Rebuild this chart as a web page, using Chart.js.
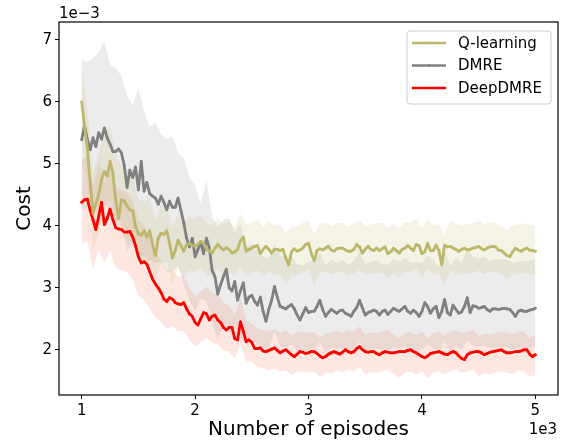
<!DOCTYPE html>
<html>
<head>
<meta charset="utf-8">
<script src="https://cdn.jsdelivr.net/npm/chart.js@4.4.1/dist/chart.umd.min.js"></script>
<style>
  html, body { margin: 0; padding: 0; background: #fff; }
  #wrap { width: 562px; height: 442px; }
</style>
</head>
<body>
<div id="wrap"><canvas id="canvas" width="562" height="442"></canvas></div>
<script>
// cost values are in units of 1e-3, episodes are raw counts
var xTicks = [1000, 2000, 3000, 4000, 5000];
var yTicks = [2, 3, 4, 5, 6, 7];
var seriesNames = ["Q-learning", "DMRE", "DeepDMRE"];

// mean curves, every 25 episodes
var lineEpisodes = [1000,1025,1050,1075,1100,1125,1150,1175,1200,1225,1250,1275,1300,1325,1350,1375,1400,1425,1450,1475,
  1500,1525,1550,1575,1600,1625,1650,1675,1700,1725,1750,1775,1800,1825,1850,1875,1900,1925,1950,1975,
  2000,2025,2050,2075,2100,2125,2150,2175,2200,2225,2250,2275,2300,2325,2350,2375,2400,2425,2450,2475,
  2500,2525,2550,2575,2600,2625,2650,2675,2700,2725,2750,2775,2800,2825,2850,2875,2900,2925,2950,2975,
  3000,3025,3050,3075,3100,3125,3150,3175,3200,3225,3250,3275,3300,3325,3350,3375,3400,3425,3450,3475,
  3500,3525,3550,3575,3600,3625,3650,3675,3700,3725,3750,3775,3800,3825,3850,3875,3900,3925,3950,3975,
  4000,4025,4050,4075,4100,4125,4150,4175,4200,4225,4250,4275,4300,4325,4350,4375,4400,4425,4450,4475,
  4500,4525,4550,4575,4600,4625,4650,4675,4700,4725,4750,4775,4800,4825,4850,4875,4900,4925,4950,4975,5000];

var qlearning = [6.00,5.62,5.25,4.70,4.20,4.35,4.50,4.75,4.88,4.80,5.04,4.86,4.42,4.12,4.42,4.40,4.32,4.26,4.24,3.99,
  3.87,3.85,3.92,3.82,3.92,3.70,3.52,3.80,3.88,3.86,3.92,3.72,3.48,3.60,3.77,3.68,3.59,3.70,3.72,3.68,
  3.68,3.70,3.75,3.72,3.62,3.60,3.56,3.64,3.70,3.65,3.61,3.65,3.62,3.56,3.58,3.62,3.76,3.82,3.59,3.62,
  3.64,3.67,3.68,3.55,3.62,3.67,3.62,3.56,3.62,3.62,3.60,3.62,3.48,3.37,3.58,3.63,3.59,3.61,3.64,3.70,
  3.72,3.55,3.44,3.60,3.63,3.61,3.64,3.67,3.61,3.59,3.63,3.64,3.64,3.61,3.59,3.59,3.62,3.70,3.66,3.56,
  3.62,3.67,3.62,3.60,3.64,3.60,3.63,3.66,3.55,3.58,3.64,3.60,3.56,3.62,3.64,3.68,3.64,3.60,3.70,3.68,
  3.55,3.58,3.72,3.60,3.60,3.69,3.60,3.37,3.69,3.66,3.67,3.64,3.62,3.59,3.62,3.64,3.61,3.62,3.64,3.65,
  3.67,3.63,3.61,3.64,3.66,3.67,3.66,3.61,3.60,3.56,3.52,3.50,3.58,3.64,3.61,3.59,3.62,3.64,3.61,3.60,3.59];

var dmre = [5.39,5.62,5.40,5.23,5.42,5.28,5.50,5.40,5.58,5.42,5.32,5.20,5.20,5.24,5.18,4.98,4.62,4.90,4.78,4.95,
  4.58,5.04,4.56,4.70,4.52,4.48,4.45,4.35,4.48,4.38,4.26,4.40,4.30,4.30,4.45,4.25,4.05,3.80,3.66,3.80,
  3.50,3.62,3.73,3.55,3.80,3.65,3.28,3.18,2.90,3.05,3.18,3.30,3.00,2.95,3.10,2.80,2.95,3.08,2.75,2.85,
  2.88,2.78,2.72,2.85,2.62,2.46,2.65,2.80,3.02,2.85,2.70,2.68,2.66,2.70,2.73,2.66,2.56,2.48,2.58,2.68,
  2.60,2.62,2.62,2.70,2.80,2.65,2.54,2.60,2.65,2.62,2.59,2.63,2.64,2.59,2.57,2.54,2.62,2.68,2.80,2.68,
  2.56,2.60,2.62,2.64,2.62,2.56,2.62,2.64,2.57,2.62,2.67,2.64,2.62,2.66,2.70,2.62,2.59,2.64,2.60,2.54,
  2.62,2.76,2.70,2.59,2.66,2.70,2.52,2.62,2.81,2.60,2.56,2.72,2.65,2.59,2.61,2.70,2.84,2.60,2.71,2.70,
  2.67,2.68,2.70,2.65,2.62,2.66,2.66,2.65,2.66,2.67,2.66,2.65,2.60,2.54,2.62,2.64,2.62,2.62,2.64,2.65,2.67];

var deepdmre = [4.38,4.42,4.43,4.25,4.10,3.94,4.15,4.38,4.02,4.12,4.27,4.10,3.97,3.95,3.94,3.90,3.90,3.91,3.82,3.68,
  3.50,3.40,3.42,3.38,3.26,3.14,3.06,3.00,2.92,2.82,2.78,2.84,2.82,2.76,2.74,2.73,2.76,2.66,2.58,2.54,
  2.44,2.40,2.50,2.60,2.58,2.48,2.54,2.56,2.48,2.44,2.36,2.32,2.36,2.36,2.18,2.16,2.45,2.30,2.13,2.16,
  2.12,2.02,2.02,2.03,1.98,1.97,1.99,2.01,2.03,1.99,1.95,1.98,2.00,1.96,1.92,1.89,1.93,1.97,1.96,1.94,
  1.95,1.97,1.97,1.94,1.90,1.87,1.89,1.93,1.95,1.97,1.95,1.93,1.96,2.00,1.97,1.95,1.97,2.02,2.05,2.00,
  1.97,1.96,1.97,1.97,1.94,1.92,1.95,1.97,1.96,1.95,1.95,1.96,1.97,1.97,1.97,1.99,2.00,1.97,1.95,1.92,
  1.89,1.87,1.90,1.94,1.95,1.96,1.97,1.95,1.93,1.92,1.95,1.97,1.95,1.90,1.86,1.84,1.92,1.95,1.96,1.97,
  1.97,1.95,1.92,1.94,1.96,1.97,1.98,1.99,2.00,1.97,1.95,1.95,1.96,1.97,1.97,1.98,2.00,2.00,1.93,1.89,1.92];

// shaded spread, every 50 episodes
var bandEpisodes = [1000,1050,1100,1150,1200,1250,1300,1350,1400,1450,1500,1550,1600,1650,1700,1750,1800,1850,1900,1950,
  2000,2050,2100,2150,2200,2250,2300,2350,2400,2450,2500,2550,2600,2650,2700,2750,2800,2850,2900,2950,
  3000,3050,3100,3150,3200,3250,3300,3350,3400,3450,3500,3550,3600,3650,3700,3750,3800,3850,3900,3950,
  4000,4050,4100,4150,4200,4250,4300,4350,4400,4450,4500,4550,4600,4650,4700,4750,4800,4850,4900,4950,5000];

var qlearningUpper = [6.60,5.90,4.85,5.15,5.50,5.62,5.15,4.98,4.92,4.80,4.42,4.40,4.44,4.10,4.35,4.36,3.98,4.22,4.05,4.15,
  4.12,4.18,4.05,4.00,4.12,4.02,4.08,3.98,4.20,4.02,4.05,4.10,3.98,4.07,4.00,4.02,3.88,3.98,3.99,4.05,
  4.10,3.86,4.03,4.06,4.00,4.05,4.04,3.99,4.03,4.09,4.00,4.02,4.04,4.05,3.96,4.04,3.97,4.05,4.04,4.12,
  3.96,4.10,4.01,4.03,3.85,4.08,4.04,4.01,4.03,4.04,4.08,4.02,4.06,4.05,4.00,3.93,4.01,4.02,4.04,4.02,4.00];
var qlearningLower = [5.40,4.65,3.60,3.88,4.28,4.42,3.98,3.83,3.80,3.72,3.40,3.38,3.42,3.12,3.40,3.42,3.05,3.32,3.16,3.28,
  3.26,3.32,3.22,3.17,3.30,3.22,3.26,3.19,3.34,3.20,3.25,3.28,3.19,3.26,3.21,3.21,3.06,3.19,3.19,3.25,
  3.30,3.05,3.24,3.26,3.21,3.25,3.25,3.20,3.23,3.29,3.21,3.23,3.24,3.25,3.16,3.24,3.17,3.25,3.25,3.31,
  3.16,3.31,3.21,3.23,3.02,3.28,3.24,3.21,3.23,3.24,3.28,3.22,3.26,3.26,3.21,3.14,3.21,3.23,3.24,3.22,3.20];

var dmreUpper = [6.68,6.65,6.70,6.80,6.98,6.60,6.55,6.42,6.10,5.95,6.22,5.85,5.60,5.66,5.48,5.40,5.45,5.18,5.10,4.78,
  4.65,4.35,4.75,4.15,3.98,4.10,4.12,3.90,4.05,3.65,3.72,3.58,3.50,3.47,3.70,3.52,3.48,3.52,3.38,3.36,
  3.42,3.44,3.58,3.36,3.46,3.40,3.45,3.37,3.43,3.58,3.38,3.42,3.44,3.39,3.37,3.47,3.42,3.49,3.40,3.41,
  3.40,3.52,3.45,3.33,3.60,3.36,3.48,3.40,3.62,3.50,3.47,3.50,3.43,3.46,3.46,3.46,3.40,3.42,3.43,3.44,3.47];
var dmreLower = [4.25,4.30,4.28,4.25,4.40,4.20,4.10,4.05,3.60,3.70,3.52,3.50,3.45,3.40,3.42,3.25,3.28,3.35,3.05,2.80,
  2.62,2.82,2.80,2.45,2.15,2.40,2.28,2.36,2.18,2.10,2.20,2.08,2.03,2.00,2.30,2.05,2.04,2.08,1.98,1.97,
  2.00,2.02,2.12,1.96,2.04,2.00,2.03,1.98,2.02,2.12,1.98,2.02,2.02,1.99,1.98,2.05,2.02,2.06,2.00,2.00,
  2.00,2.09,2.03,1.94,2.14,1.97,2.06,2.00,2.15,2.07,2.05,2.07,2.02,2.04,2.04,2.04,2.00,2.02,2.02,2.03,2.05];

var deepdmreUpper = [5.08,5.12,4.62,5.05,4.68,4.95,4.62,4.58,4.52,4.42,4.10,4.00,3.82,3.60,3.44,3.28,3.28,3.18,3.20,3.00,
  2.86,2.94,3.02,2.92,2.90,2.76,2.72,2.56,2.84,2.48,2.42,2.34,2.32,2.30,2.34,2.28,2.31,2.24,2.28,2.29,
  2.27,2.29,2.20,2.27,2.27,2.31,2.27,2.32,2.29,2.38,2.24,2.28,2.27,2.29,2.32,2.25,2.19,2.27,2.29,2.24,
  2.29,2.18,2.27,2.29,2.24,2.29,2.32,2.27,2.29,2.32,2.22,2.26,2.25,2.27,2.29,2.27,2.25,2.30,2.29,2.20,2.24];
var deepdmreLower = [3.72,3.75,3.32,3.62,3.40,3.60,3.32,3.28,3.25,3.12,2.88,2.80,2.66,2.52,2.45,2.33,2.38,2.30,2.30,2.16,
  2.05,2.12,2.18,2.12,2.08,1.98,1.98,1.85,2.08,1.82,1.80,1.72,1.70,1.66,1.70,1.64,1.67,1.60,1.64,1.65,
  1.63,1.65,1.56,1.63,1.62,1.67,1.63,1.68,1.65,1.72,1.60,1.64,1.63,1.65,1.68,1.61,1.55,1.63,1.65,1.60,
  1.65,1.54,1.63,1.65,1.60,1.65,1.68,1.63,1.65,1.68,1.58,1.62,1.61,1.63,1.65,1.63,1.61,1.66,1.65,1.56,1.60];

var lineColors = ["#bdb76b", "#808080", "#ff0000"];
var bandColors = ["rgba(189,183,107,0.17)", "rgba(128,128,128,0.15)", "rgba(250,110,80,0.17)"];

function pts(xs, ys) {
  return xs.map(function(x, i) { return {x: x, y: ys[i]}; });
}

var lines = [qlearning, dmre, deepdmre];
var uppers = [qlearningUpper, dmreUpper, deepdmreUpper];
var lowers = [qlearningLower, dmreLower, deepdmreLower];

var datasets = [];
for (var s = 0; s < 3; s++) {
  datasets.push({
    label: seriesNames[s],
    data: pts(lineEpisodes, lines[s]),
    borderColor: lineColors[s],
    backgroundColor: lineColors[s],
    pointBackgroundColor: lineColors[s],
    pointBorderWidth: 0,
    pointRadius: 1.3,
    borderWidth: 2.8,
    borderJoinStyle: 'round',
    borderCapStyle: 'round',
    tension: 0,
    fill: false,
    order: 0
  });
}
for (var s = 0; s < 3; s++) {
  datasets.push({
    label: seriesNames[s] + " low",
    data: pts(bandEpisodes, lowers[s]),
    borderWidth: 0,
    pointRadius: 0,
    fill: false,
    order: 1
  });
  datasets.push({
    label: seriesNames[s] + " high",
    data: pts(bandEpisodes, uppers[s]),
    borderWidth: 0,
    pointRadius: 0,
    backgroundColor: bandColors[s],
    fill: '-1',
    order: 1
  });
}

// frame, offset labels and legend, drawn the matplotlib way
var mplDecor = {
  id: 'mplDecor',
  afterDraw: function(chart) {
    var ctx = chart.ctx, a = chart.chartArea;
    ctx.save();
    ctx.strokeStyle = '#000';
    ctx.lineWidth = 1.2;
    ctx.strokeRect(a.left, a.top, a.right - a.left, a.bottom - a.top);

    ctx.fillStyle = '#000';
    ctx.font = '15px "DejaVu Sans"';
    ctx.textBaseline = 'alphabetic';
    ctx.textAlign = 'left';
    ctx.fillText('1e\u22123', a.left, 18);
    ctx.textAlign = 'right';
    ctx.fillText('1e3', 557, 434);

    // legend
    var lx = 407, ly = 31, lw = 144, lh = 73;
    ctx.beginPath();
    ctx.roundRect(lx, ly, lw, lh, 3);
    ctx.fillStyle = 'rgba(255,255,255,0.8)';
    ctx.fill();
    ctx.strokeStyle = '#cccccc';
    ctx.lineWidth = 1;
    ctx.stroke();
    ctx.textAlign = 'left';
    ctx.textBaseline = 'middle';
    for (var i = 0; i < seriesNames.length; i++) {
      var yy = 43 + i * 22.5;
      ctx.strokeStyle = lineColors[i];
      ctx.lineWidth = 2.6;
      ctx.beginPath();
      ctx.moveTo(412, yy);
      ctx.lineTo(446, yy);
      ctx.stroke();
      ctx.fillStyle = lineColors[i];
      ctx.beginPath();
      ctx.arc(429, yy, 1.3, 0, Math.PI * 2);
      ctx.fill();
      ctx.fillStyle = '#000';
      ctx.fillText(seriesNames[i], 458, yy + 1);
    }
    ctx.restore();
  }
};

Chart.defaults.font.family = '"DejaVu Sans"';
Chart.defaults.font.size = 15;
Chart.defaults.color = '#000';

window.onload = function() {
  window.myChart = new Chart(document.getElementById("canvas"), {
    type: 'line',
    data: { datasets: datasets },
    plugins: [mplDecor],
    options: {
      responsive: false,
      animation: false,
      devicePixelRatio: 1,
      layout: { padding: { top: 22, right: 4, left: 0, bottom: 0 } },
      plugins: { legend: { display: false }, tooltip: { enabled: false } },
      scales: {
        x: {
          type: 'linear',
          min: 800,
          max: 5200,
          afterFit: function(sc) { sc.height = 47; },
          afterBuildTicks: function(sc) { sc.ticks = xTicks.map(function(v) { return {value: v}; }); },
          border: { display: false },
          grid: { drawOnChartArea: false, drawTicks: true, tickLength: 4, color: '#000' },
          ticks: {
            padding: 3,
            maxRotation: 0,
            autoSkip: false,
            callback: function(v) { return v / 1000; }
          },
          title: { display: true, text: 'Number of episodes', font: { size: 20 }, padding: { top: 0, bottom: 0 } }
        },
        y: {
          min: 1.27,
          max: 7.29,
          afterFit: function(sc) { sc.width = 59; },
          afterBuildTicks: function(sc) { sc.ticks = yTicks.map(function(v) { return {value: v}; }); },
          border: { display: false },
          grid: { drawOnChartArea: false, drawTicks: true, tickLength: 4, color: '#000' },
          ticks: { padding: 3, autoSkip: false },
          title: { display: true, text: 'Cost', font: { size: 20 }, padding: { top: 13, bottom: 0 } }
        }
      }
    }
  });
};
</script>
</body>
</html>
